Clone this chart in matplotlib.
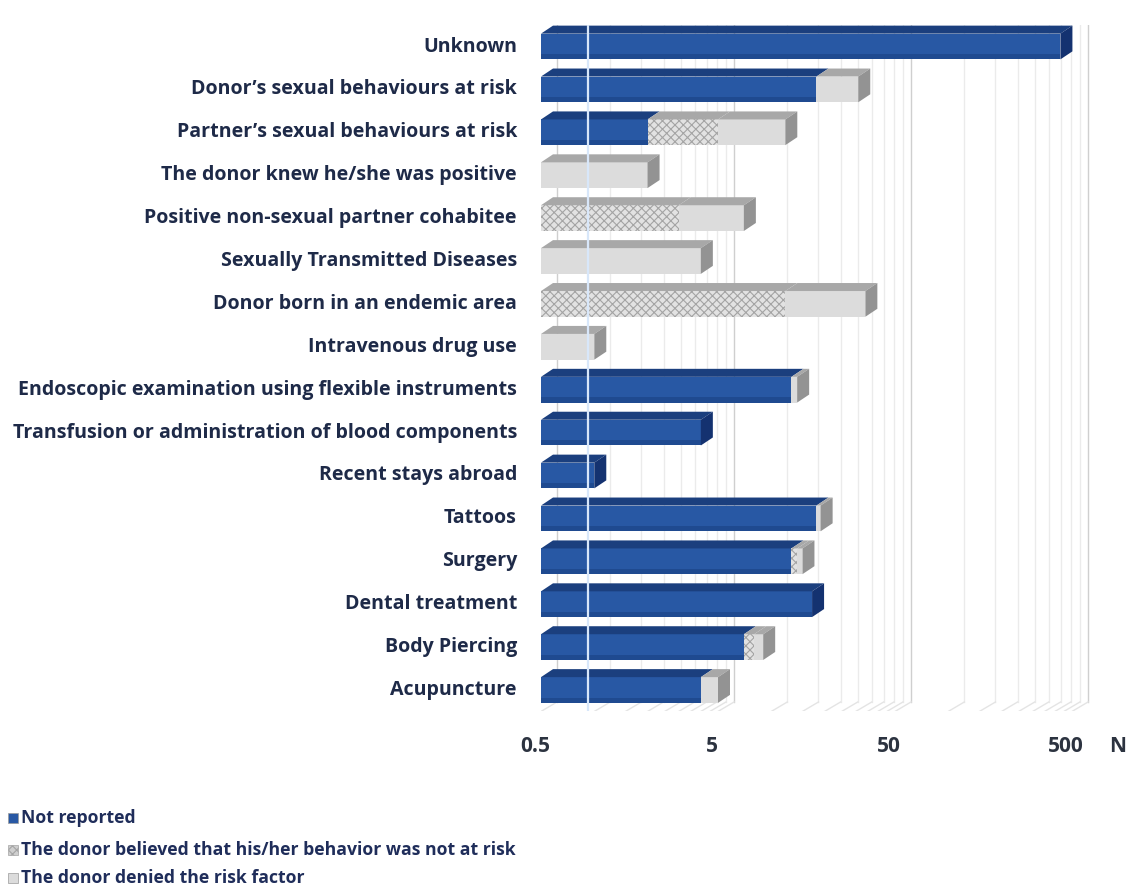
import numpy as np
import matplotlib.pyplot as plt
from matplotlib.patches import Polygon, Rectangle

categories = [
    "Unknown",
    "Donor’s sexual behaviours at risk",
    "Partner’s sexual behaviours at risk",
    "The donor knew he/she was positive",
    "Positive non-sexual partner cohabitee",
    "Sexually Transmitted Diseases",
    "Donor born in an endemic area",
    "Intravenous drug use",
    "Endoscopic examination using flexible instruments",
    "Transfusion or administration of blood components",
    "Recent stays abroad",
    "Tattoos",
    "Surgery",
    "Dental treatment",
    "Body Piercing",
    "Acupuncture",
]
not_reported = [430, 18, 2, 0, 0, 0, 0, 0, 13, 4, 1, 18, 13, 17, 7, 4]
believed_no_risk = [0, 0, 3, 0, 3, 0, 12, 0, 0, 0, 0, 0, 1, 0, 1, 0]
denied = [0, 13, 7, 2, 4, 4, 22, 1, 1, 0, 0, 1, 1, 0, 1, 1]

series_names = [
    "Not reported",
    "The donor believed that his/her behavior was not at risk",
    "The donor denied the risk factor",
]
tick_values = [0.5, 5, 50, 500]
tick_labels = ["0.5", "5", "50", "500"]

# face colours: front, top, side
styles = [
    dict(front="#2858a4", top="#1b3f7e", side="#143270", hatch=None),
    dict(front="#e2e2e2", top="#a8a8a8", side="#939393", hatch="xxxx"),
    dict(front="#dcdcdc", top="#a8a8a8", side="#939393", hatch=None),
]

TEXT = "#1e2a48"
plt.rcParams["font.family"] = ["Open Sans", "DejaVu Sans"]
plt.rcParams["hatch.linewidth"] = 0.8

W, H = 1132, 894
DEC = 177.0      # pixels per decade
PITCH = 42.9     # pixels per category row
X0, Y0 = 541, 46.5
XMAX = 700

fig = plt.figure(figsize=(W / 100, H / 100), dpi=100)
ax_w = DEC * np.log10(XMAX / 0.5)
ax = fig.add_axes([X0 / W, 1 - (Y0 + 15.5 * PITCH) / H, ax_w / W, 16 * PITCH / H])
ax.set_xscale("log")
ax.set_xlim(0.5, XMAX)
ax.set_ylim(15.5, -0.5)
ax.axis("off")


def sx(v, px):
    # move a value sideways by px screen pixels on the log axis
    return v * 10 ** (px / DEC)


def sy(y, px):
    # move a row position up by px screen pixels
    return y - px / PITCH


def row_of(py):
    return (py - Y0) / PITCH


# back wall and floor gridlines
back_dx, front_dx = 16, -6
wall_top, floor_back, floor_front = row_of(15), row_of(702), row_of(715)
minor = [0.5 * j * 10 ** k for k in range(3) for j in range(2, 10)]
for v in minor + tick_values:
    major = v in tick_values
    c = "#cfcfcf" if major else "#ebebeb"
    ax.plot([sx(v, back_dx)] * 2, [wall_top, floor_back], color=c, lw=1.0, zorder=1)
    ax.plot([sx(v, front_dx), sx(v, back_dx)], [floor_front, floor_back],
            color="#e4e4e4", lw=1.0, zorder=1)

# stacked 3D-looking bars
h = 0.30
depth_x, depth_y = 12, 8
series = [not_reported, believed_no_risk, denied]
for i in range(len(categories)):
    left = 0.5
    last = None
    for s, vals in enumerate(series):
        val = vals[i]
        if val == 0:
            continue
        right = (left if left > 0.5 else 0) + val
        st = styles[s]
        ax.barh(i, right - left, left=left, height=2 * h, color=st["front"],
                hatch=st["hatch"], edgecolor="#a4a4a4" if st["hatch"] else st["front"],
                lw=0, zorder=3)
        if s == 0:
            # darker lower edge on the blue front face
            ax.barh(i + h * 0.8, right - left, left=left, height=h * 0.4,
                    color="#1f4a90", lw=0, zorder=3)
        top = Polygon([(left, i - h), (right, i - h),
                       (sx(right, depth_x), sy(i - h, depth_y)),
                       (sx(left, depth_x), sy(i - h, depth_y))],
                      closed=True, facecolor=st["top"], edgecolor="none", zorder=3)
        ax.add_patch(top)
        left = right
        last = st
    side = Polygon([(left, i - h), (sx(left, depth_x), sy(i - h, depth_y)),
                    (sx(left, depth_x), sy(i + h, depth_y)), (left, i + h)],
                   closed=True, facecolor=last["side"], edgecolor="none", zorder=4)
    ax.add_patch(side)

# light gridline crossing the bars at 1
ax.plot([sx(1, front_dx)] * 2, [row_of(18), floor_front], color="#d8e7fa",
        lw=1.6, zorder=6)

# category labels
for i, name in enumerate(categories):
    ax.text(sx(0.5, -24), i, name, ha="right", va="center", fontsize=14.1,
            fontweight="bold", color=TEXT, clip_on=False)

# value axis labels
lab_row = row_of(747)
for v, t in zip(tick_values, tick_labels):
    ax.text(sx(v, front_dx), lab_row, t, ha="center", va="center", fontsize=15,
            fontweight="bold", color="#2c3340", clip_on=False)
ax.text(sx(500, 46), lab_row, "N", ha="center", va="center", fontsize=15,
        fontweight="bold", color="#2c3340", clip_on=False)

# legend
leg_y = [818, 850, 878]
for s, (name, py) in enumerate(zip(series_names, leg_y)):
    st = styles[s]
    sq = Rectangle((8 / W, 1 - (py + 5) / H), 10 / W, 10 / H, transform=fig.transFigure,
                   facecolor=st["front"] if s != 1 else "#cfcfcf",
                   hatch=st["hatch"], edgecolor="#a4a4a4" if st["hatch"] else "#9a9a9a",
                   lw=0.5)
    fig.add_artist(sq)
    fig.text(21 / W, 1 - py / H, name, ha="left", va="center", fontsize=12.7,
             fontweight="bold", color="#1f2d5a")

fig.savefig("out.png", dpi=100)
